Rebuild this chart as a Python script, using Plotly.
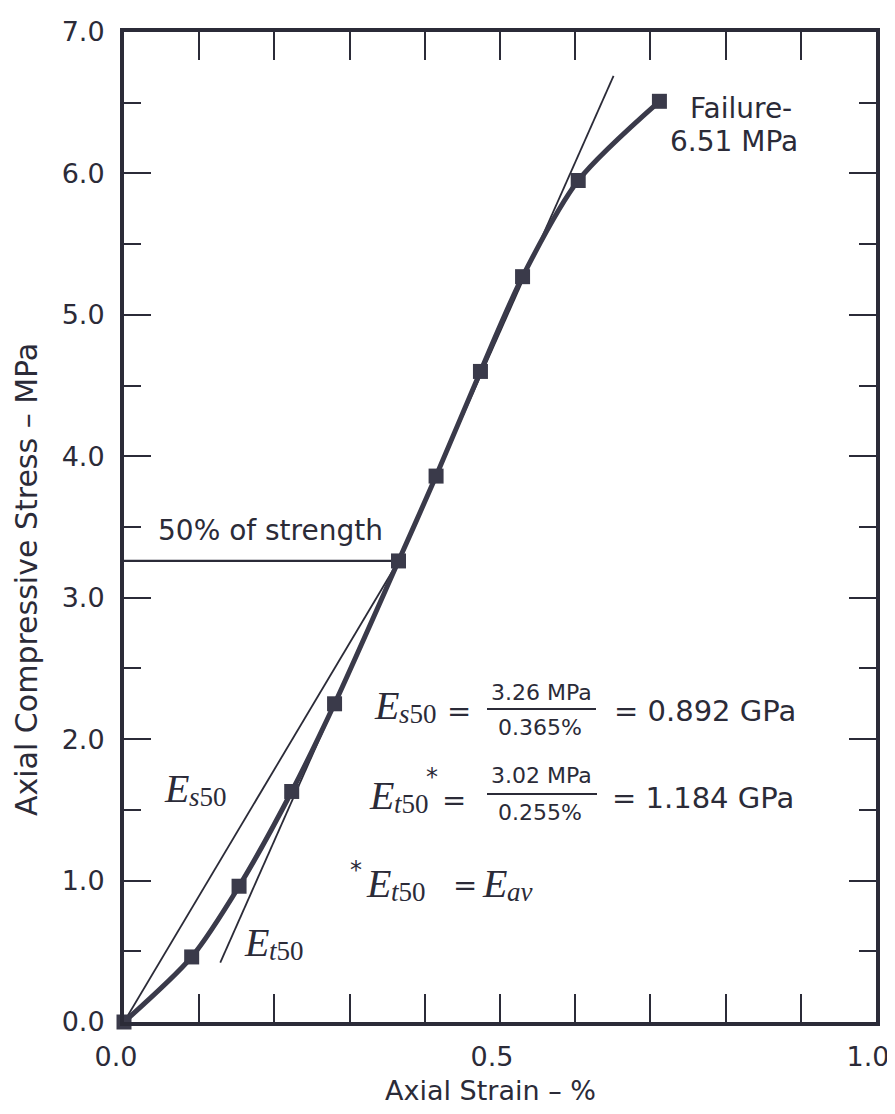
import plotly.graph_objects as go

# ---- data ----
strain = [0.0, 0.09, 0.153, 0.223, 0.28, 0.365, 0.415, 0.474, 0.53, 0.604, 0.712]
stress = [0.0, 0.46, 0.96, 1.63, 2.25, 3.26, 3.86, 4.60, 5.27, 5.95, 6.51]
secant_x = [0.0, 0.365]
secant_y = [0.0, 3.26]
tangent_x = [0.128, 0.651]
tangent_y = [0.42, 6.69]
half_x = [0.0, 0.365]
half_y = [3.26, 3.26]
xtick_vals = [0.0, 0.5, 1.0]
xtick_text = ["0.0", "0.5", "1.0"]
ytick_vals = [0, 1, 2, 3, 4, 5, 6, 7]
ytick_text = ["0.0", "1.0", "2.0", "3.0", "4.0", "5.0", "6.0", "7.0"]

INK = "#2b2b38"
CURVE = "#3a3a4a"
SANS = "DejaVu Sans"
SERIF = "Liberation Serif"

# page has an 8px body margin: figure is offset by (8, 8) on screen
OFF = 8
W, H = 895 - OFF, 1114 - OFF
# plot area in screen pixels
L, R, T, B = 124, 876, 32, 1022

def px(xp):
    return (xp - L) / (R - L)

def py(yp):
    return (B - yp) / (B - T)

fig = go.Figure()
fig.add_trace(go.Scatter(x=secant_x, y=secant_y, mode="lines",
                         line=dict(color=INK, width=1.8), cliponaxis=False, showlegend=False))
fig.add_trace(go.Scatter(x=tangent_x, y=tangent_y, mode="lines",
                         line=dict(color=INK, width=1.8), cliponaxis=False, showlegend=False))
fig.add_trace(go.Scatter(x=half_x, y=half_y, mode="lines",
                         line=dict(color=INK, width=2.2), cliponaxis=False, showlegend=False))
fig.add_trace(go.Scatter(x=strain, y=stress, mode="lines+markers",
                         line=dict(color=CURVE, width=5, shape="spline", smoothing=0.8),
                         marker=dict(symbol="square", size=15, color=CURVE),
                         cliponaxis=False, showlegend=False))

ann = []
def text(xp, yp, s, size, family=SANS, xanchor="left", yanchor="middle", angle=0):
    ann.append(dict(x=px(xp), y=py(yp), xref="paper", yref="paper", text=s,
                    showarrow=False, xanchor=xanchor, yanchor=yanchor, textangle=angle,
                    font=dict(family=family, size=size, color=INK)))

ESIZE, SUBSIZE, SUBGAP = 40, 27, 25

def emath(x_e, y_e, sub, sub_dy=9):
    text(x_e, y_e, "<i>E</i>", ESIZE, SERIF)
    text(x_e + SUBGAP, y_e + sub_dy, sub, SUBSIZE, SERIF)

text(688, 108, "Failure-", 28)
text(668, 141, "6.51 MPa", 28)
text(156, 530, "50% of strength", 28)

# curve labels
emath(162, 788, "<i>s</i>50")
emath(242, 942, "<i>t</i>50")

# row 1
emath(372, 705, "<i>s</i>50")
text(459, 711, "=", 29, xanchor="center")
text(541, 692, "3.26 MPa", 22, xanchor="center")
text(540, 727, "0.365%", 22, xanchor="center")
text(612, 711, "= 0.892 GPa", 29)
# row 2
emath(367, 795, "<i>t</i>50")
text(432, 777, "*", 24, xanchor="center")
text(454, 800, "=", 29, xanchor="center")
text(541, 775, "3.02 MPa", 22, xanchor="center")
text(540, 812, "0.255%", 22, xanchor="center")
text(610, 798, "= 1.184 GPa", 29)
# row 3
text(356, 870, "*", 24, xanchor="center")
emath(364, 883, "<i>t</i>50")
text(465, 885, "=", 29, xanchor="center")
emath(480, 883, "<i>av</i>")

# axis titles
text(490, 1090, "Axial Strain \u2013 %", 27, xanchor="center")
text(26, 580, "Axial Compressive Stress \u2013 MPa", 30, xanchor="center", angle=-90)

shapes = [
    dict(type="line", xref="paper", yref="paper", x0=px(487), x1=px(596), y0=py(709), y1=py(709),
         line=dict(color=INK, width=2)),
    dict(type="line", xref="paper", yref="paper", x0=px(487), x1=px(597), y0=py(794), y1=py(794),
         line=dict(color=INK, width=2)),
]

fig.update_layout(
    width=W, height=H,
    margin=dict(l=L - OFF, r=W - (R - OFF), t=T - OFF, b=H - (B - OFF), autoexpand=False),
    plot_bgcolor="white", paper_bgcolor="white",
    annotations=ann, shapes=shapes,
    font=dict(family=SANS, color=INK),
)
fig.update_xaxes(range=[0, 1], tickvals=xtick_vals, ticktext=xtick_text,
                 ticks="inside", ticklen=28, tickwidth=2, tickcolor=INK,
                 minor=dict(dtick=0.1, tick0=0, ticks="inside", ticklen=28, tickwidth=2, tickcolor=INK),
                 showline=True, linewidth=4, linecolor=INK, mirror="allticks",
                 showgrid=False, zeroline=False, automargin=False,
                 ticklabeloverflow="allow", ticklabelshift=-8,
                 tickfont=dict(family=SANS, size=27, color=INK), ticklabelstandoff=8)
fig.update_yaxes(range=[0, 7], tickvals=ytick_vals, ticktext=ytick_text,
                 ticks="inside", ticklen=27, tickwidth=2, tickcolor=INK,
                 minor=dict(dtick=0.5, tick0=0, ticks="inside", ticklen=17, tickwidth=2, tickcolor=INK),
                 showline=True, linewidth=4, linecolor=INK, mirror="allticks",
                 showgrid=False, zeroline=False, automargin=False,
                 ticklabeloverflow="allow",
                 tickfont=dict(family=SANS, size=27, color=INK), ticklabelstandoff=10)

fig.write_html("out.html")
